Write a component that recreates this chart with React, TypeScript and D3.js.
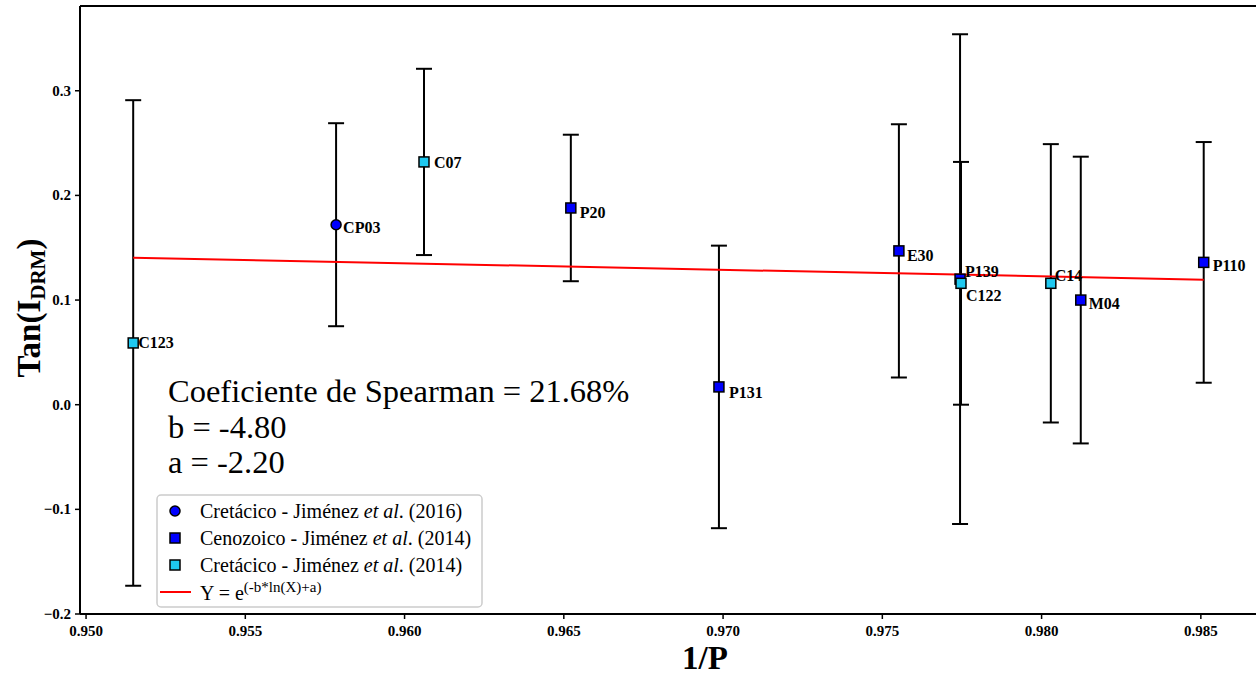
import React from "react";
import * as d3 from "d3";

const names = ["C123", "CP03", "C07", "P20", "P131", "E30", "P139", "C122", "C14", "M04", "P110"];
const xs = [0.95148, 0.95785, 0.96061, 0.96522, 0.96987, 0.97552, 0.97744, 0.97747, 0.98029, 0.98123, 0.98509];
const ys = [0.059, 0.172, 0.232, 0.188, 0.017, 0.147, 0.120, 0.116, 0.116, 0.100, 0.136];
const errs = [0.232, 0.097, 0.089, 0.070, 0.135, 0.121, 0.234, 0.116, 0.133, 0.137, 0.115];
const groups = ["C14b", "C16", "C14b", "Ceno", "Ceno", "Ceno", "Ceno", "C14b", "C14b", "Ceno", "Ceno"];
const fitX = [0.95148, 0.98509];
const fitY = [0.1405, 0.1195];
const xTicks = [0.95, 0.955, 0.96, 0.965, 0.97, 0.975, 0.98, 0.985];
const yTicks = [-0.2, -0.1, 0.0, 0.1, 0.2, 0.3];
const legendLabels = ["Cretácico - Jiménez ", "Cenozoico - Jiménez ", "Cretácico - Jiménez "];
const legendYears = [". (2016)", ". (2014)", ". (2014)"];
const annotation = ["Coeficiente de Spearman = 21.68%", "b = -4.80", "a = -2.20"];

// label placement (offsets in px relative to marker)
const labelOffset: Record<string, [number, number]> = {
  C123: [5, 0], CP03: [7, 3], C07: [10, 1], P20: [9, 5], P131: [10, 6], E30: [8, 5],
  P139: [5, -7], C122: [5, 13], C14: [4, -7], M04: [8, 4], P110: [9, 4],
};

const W = 1256, H = 676;
const M = { left: 80, top: 6, right: 1262, bottom: 614 };
const serif = "Liberation Serif, Times New Roman, serif";

export default function App() {
  const x = d3.scaleLinear().domain([0.94981, 0.98692]).range([M.left, M.right]);
  const y = d3.scaleLinear().domain([-0.2, 0.381]).range([M.bottom, M.top]);
  const line = d3.line<number>().x((_, i) => x(fitX[i])).y((d) => y(d));
  const fill = (g: string) => (g === "C14b" ? "#1EC8F0" : "#0000FF");
  const ts = { fontFamily: serif };

  return (
    <svg width={W} height={H} style={{ position: "absolute", left: 0, top: 0, background: "#fff", fontFamily: serif }}>
      {/* error bars */}
      {names.map((n, i) => {
        const cx = x(xs[i]);
        const t = y(ys[i] + errs[i]);
        const b = y(ys[i] - errs[i]);
        return (
          <g key={"e" + n} stroke="#000" strokeWidth={2}>
            <line x1={cx} x2={cx} y1={t} y2={b} />
            <line x1={cx - 8} x2={cx + 8} y1={t} y2={t} />
            <line x1={cx - 8} x2={cx + 8} y1={b} y2={b} />
          </g>
        );
      })}
      {/* fit line */}
      <path d={line(fitY) || ""} fill="none" stroke="#FF0000" strokeWidth={2} />
      {/* markers */}
      {names.map((n, i) => {
        const cx = x(xs[i]);
        const cy = y(ys[i]);
        return groups[i] === "C16" ? (
          <circle key={"m" + n} cx={cx} cy={cy} r={5} fill="#0000FF" stroke="#000" strokeWidth={1.5} />
        ) : (
          <rect key={"m" + n} x={cx - 5} y={cy - 5} width={10} height={10} fill={fill(groups[i])} stroke="#000" strokeWidth={1.5} />
        );
      })}
      {/* point labels */}
      {names.map((n, i) => {
        const [dx, dy] = labelOffset[n];
        return (
          <text key={"l" + n} x={x(xs[i]) + dx} y={y(ys[i]) + dy + 5} fontSize={16} fontWeight="bold" style={ts}>
            {n}
          </text>
        );
      })}
      {/* axes */}
      <line x1={M.left} x2={W} y1={M.top} y2={M.top} stroke="#000" strokeWidth={2} />
      <line x1={M.left} x2={W} y1={M.bottom} y2={M.bottom} stroke="#000" strokeWidth={2} />
      <line x1={M.left} x2={M.left} y1={M.top} y2={M.bottom} stroke="#000" strokeWidth={2} />
      {xTicks.map((t) => (
        <g key={"xt" + t}>
          <line x1={x(t)} x2={x(t)} y1={M.bottom} y2={M.bottom + 5} stroke="#000" strokeWidth={1.5} />
          <text x={x(t)} y={M.bottom + 22} textAnchor="middle" fontSize={15} fontWeight="bold" style={ts}>
            {d3.format(".3f")(t)}
          </text>
        </g>
      ))}
      {yTicks.map((t) => (
        <g key={"yt" + t}>
          <line x1={M.left - 5} x2={M.left} y1={y(t)} y2={y(t)} stroke="#000" strokeWidth={1.5} />
          <text x={M.left - 9} y={y(t) + 5} textAnchor="end" fontSize={15} fontWeight="bold" style={ts}>
            {d3.format(".1f")(t)}
          </text>
        </g>
      ))}
      {/* axis titles */}
      <text x={705} y={669} textAnchor="middle" fontSize={33} fontWeight="bold" style={ts}>1/P</text>
      <text transform={`translate(40,${308}) rotate(-90)`} textAnchor="middle" fontSize={33} fontWeight="bold" style={ts}>
        Tan(I<tspan fontSize={21} dy={5}>DRM</tspan><tspan dy={-5}>)</tspan>
      </text>
      {/* annotation */}
      {annotation.map((s, i) => (
        <text key={"a" + i} x={168} y={402 + i * 35.5} fontSize={32.5} style={ts}>{s}</text>
      ))}
      {/* legend */}
      <rect x={157} y={495} width={325} height={112} rx={4} fill="#fff" fillOpacity={0.8} stroke="#ccc" strokeWidth={1.5} />
      {legendLabels.map((s, i) => (
        <g key={"lg" + i}>
          {i === 0 ? (
            <circle cx={175} cy={511} r={5} fill="#0000FF" stroke="#000" strokeWidth={1.5} />
          ) : (
            <rect x={170} y={511 + i * 27 - 5} width={10} height={10} fill={i === 1 ? "#0000FF" : "#1EC8F0"} stroke="#000" strokeWidth={1.5} />
          )}
          <text x={200} y={518 + i * 27} fontSize={20} style={ts}>
            {s}<tspan fontStyle="italic">et al</tspan>{legendYears[i]}
          </text>
        </g>
      ))}
      <line x1={160} x2={191} y1={592} y2={592} stroke="#FF0000" strokeWidth={2} />
      <text x={200} y={600} fontSize={20} style={ts}>
        Y = e<tspan fontSize={15} dy={-8}>(-b*ln(X)+a)</tspan>
      </text>
    </svg>
  );
}
